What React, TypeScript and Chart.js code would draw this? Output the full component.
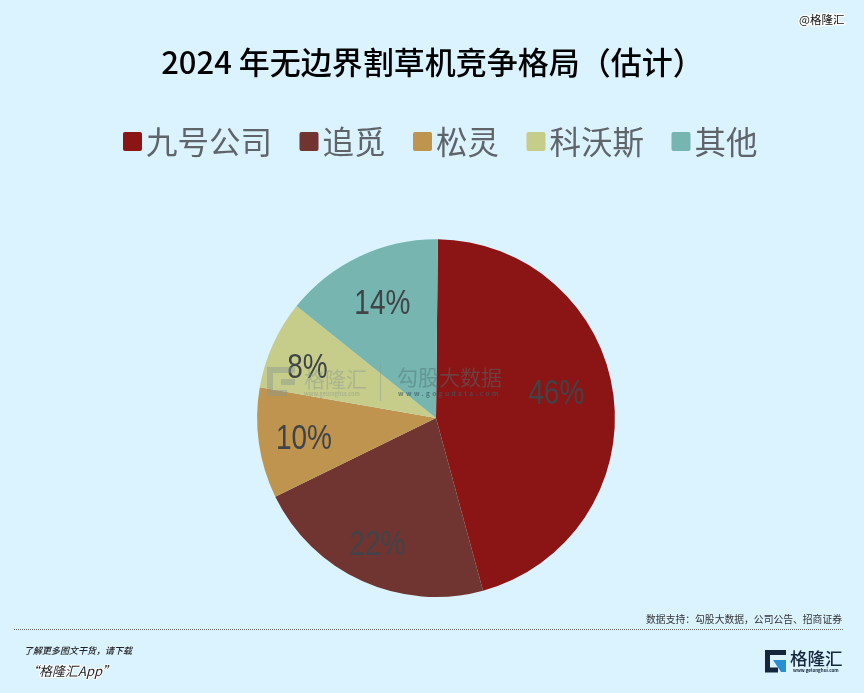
import { useEffect, useRef } from "react";
import { Chart, registerables, Plugin } from "chart.js";

Chart.register(...registerables);

const categories = ["九号公司", "追觅", "松灵", "科沃斯", "其他"];
// slice sizes, the labels show them rounded
const shares = [45.6, 22, 10, 8, 14.4];
const colors = ["#8b1414", "#703431", "#bf944f", "#c6cc8a", "#76b5b0"];
const labelNudges = [
  [-11, -7],
  [-4, 7],
  [-1, 3],
  [-8, 5],
  [3, 6],
];

// trailing space pulls the centred title left, as in the picture
const TITLE = "2024 年无边界割草机竞争格局（估计） ";
const SOURCE = "数据支持：勾股大数据，公司公告、招商证券";
const CJK = '"Noto Sans CJK SC", sans-serif';

const drawText = (
  ctx: CanvasRenderingContext2D,
  text: string,
  x: number,
  y: number,
  font: string,
  color: string,
  align: CanvasTextAlign = "left",
) => {
  ctx.font = font;
  ctx.fillStyle = color;
  ctx.textAlign = align;
  ctx.textBaseline = "middle";
  ctx.fillText(text, x, y);
};

// legend gap is tighter than the built-in one allows, so it is drawn here
const legendPlugin: Plugin<"pie"> = {
  id: "tightLegend",
  afterDraw(chart) {
    const { ctx } = chart;
    ctx.save();
    let x = 123;
    categories.forEach((name, i) => {
      ctx.fillStyle = colors[i];
      ctx.beginPath();
      ctx.roundRect(x, 132, 19, 19, 2);
      ctx.fill();
      drawText(ctx, name, x + 23, 142, `31.5px ${CJK}`, "#5f6468");
      x += 23 + ctx.measureText(name).width + 27.5;
    });
    ctx.restore();
  },
};

const valueLabels: Plugin<"pie"> = {
  id: "valueLabels",
  afterDatasetsDraw(chart) {
    const { ctx } = chart;
    chart.getDatasetMeta(0).data.forEach((arc: any, i) => {
      const mid = (arc.startAngle + arc.endAngle) / 2;
      const r = arc.outerRadius * 0.74;
      ctx.save();
      // the picture's digits are tall and narrow
      ctx.translate(
        arc.x + Math.cos(mid) * r + labelNudges[i][0],
        arc.y + Math.sin(mid) * r + labelNudges[i][1],
      );
      ctx.scale(0.8, 1);
      drawText(
        ctx,
        `${Math.round(shares[i])}%`,
        0,
        0,
        '35px "Liberation Sans", sans-serif',
        "#404448",
        "center",
      );
      ctx.restore();
    });
  },
};

const decorations: Plugin<"pie"> = {
  id: "decorations",
  afterDraw(chart) {
    const { ctx } = chart;
    ctx.save();

    // watermark
    ctx.globalAlpha = 0.45;
    ctx.strokeStyle = "#8a9a90";
    ctx.lineWidth = 6;
    ctx.beginPath();
    ctx.moveTo(295, 370);
    ctx.lineTo(270, 370);
    ctx.lineTo(270, 393);
    ctx.lineTo(287, 393);
    ctx.stroke();
    ctx.fillStyle = "#8a9a90";
    ctx.fillRect(281, 379, 14, 6);
    drawText(ctx, "格隆汇", 304, 379, `21px ${CJK}`, "#8a9a90");
    drawText(ctx, "www.gelonghui.com", 304, 394, `bold 5.5px ${CJK}`, "#8a9a90");
    ctx.fillRect(380, 363, 1, 38);
    drawText(ctx, "勾股大数据", 397, 377, `21px ${CJK}`, "#4f7078");
    ctx.globalAlpha = 0.7;
    ctx.letterSpacing = "2.4px";
    drawText(ctx, "www.gogudata.com", 398, 394, `bold 6.5px ${CJK}`, "#3f5a68");
    ctx.letterSpacing = "0px";
    ctx.globalAlpha = 1;

    // top right credit
    ctx.lineWidth = 2.5;
    ctx.strokeStyle = "#ffffff";
    ctx.font = `11.5px ${CJK}`;
    ctx.textAlign = "left";
    ctx.textBaseline = "middle";
    ctx.strokeText("@格隆汇", 799, 20);
    drawText(ctx, "@格隆汇", 799, 20, `11.5px ${CJK}`, "#111111");

    // footer
    drawText(ctx, SOURCE, 842, 619, `9.8px ${CJK}`, "#333333", "right");
    ctx.strokeStyle = "#666666";
    ctx.lineWidth = 1;
    ctx.setLineDash([1, 1]);
    ctx.beginPath();
    ctx.moveTo(14, 629.5);
    ctx.lineTo(844, 629.5);
    ctx.stroke();
    ctx.setLineDash([]);
    drawText(ctx, "了解更多图文干货，请下载", 24, 651, `italic 500 9px ${CJK}`, "#222222");
    ctx.lineWidth = 2;
    ctx.strokeStyle = "#ffffff";
    ctx.font = `italic 13px ${CJK}`;
    ctx.strokeText("“格隆汇App”", 26, 671);
    drawText(ctx, "“格隆汇App”", 26, 671, `italic 13px ${CJK}`, "#222222");

    // logo
    ctx.strokeStyle = "#14263a";
    ctx.lineWidth = 5;
    ctx.beginPath();
    ctx.moveTo(786, 652.5);
    ctx.lineTo(767.5, 652.5);
    ctx.lineTo(767.5, 670);
    ctx.lineTo(778, 670);
    ctx.stroke();
    ctx.fillStyle = "#2a8fd0";
    ctx.beginPath();
    ctx.moveTo(773, 660);
    ctx.lineTo(786, 660);
    ctx.lineTo(786, 672);
    ctx.lineTo(781, 672);
    ctx.closePath();
    ctx.fill();
    drawText(ctx, "格隆汇", 790, 658, `500 17.5px ${CJK}`, "#14263a");
    drawText(ctx, "www.gelonghui.com", 793, 670, `bold 4.5px ${CJK}`, "#14263a");

    ctx.restore();
  },
};

export default function App() {
  const canvasRef = useRef<HTMLCanvasElement | null>(null);

  useEffect(() => {
    if (!canvasRef.current) return;

    const chart = new Chart(canvasRef.current, {
      type: "pie",
      data: {
        labels: categories,
        datasets: [
          {
            data: shares,
            backgroundColor: colors,
            borderWidth: 0,
            rotation: 0.6,
          },
        ],
      },
      options: {
        responsive: false,
        animation: false,
        devicePixelRatio: 1,
        layout: { padding: { left: 8, bottom: 96 } },
        plugins: {
          legend: { display: false },
          tooltip: { enabled: false },
          title: {
            display: true,
            text: TITLE,
            color: "#000000",
            font: { family: CJK, size: 31, weight: "500" },
            padding: { top: 44, bottom: 158 },
          },
        },
      },
      plugins: [valueLabels, legendPlugin, decorations],
    });

    return () => chart.destroy();
  }, []);

  return (
    <div style={{ position: "fixed", left: 0, top: 0, width: 864, height: 693, background: "#dbf3ff" }}>
      <canvas ref={canvasRef} width={864} height={693} style={{ display: "block" }} />
    </div>
  );
}
